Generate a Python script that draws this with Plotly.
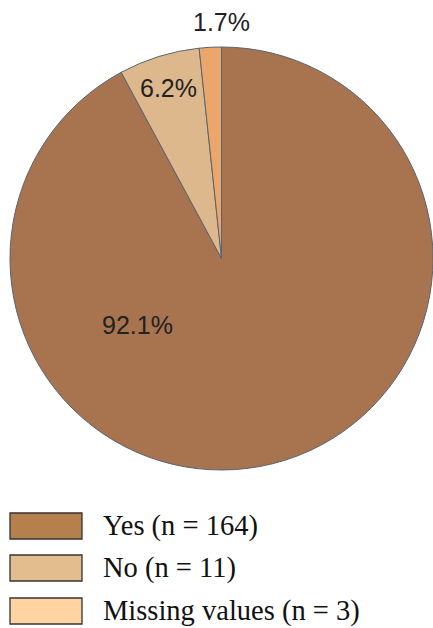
import plotly.graph_objects as go

labels = ["Yes", "No", "Missing values"]
counts = [164, 11, 3]
pie_colors = ["#A8744F", "#DEB88D", "#EAA66B"]
legend_colors = ["#B5804B", "#E3BD8E", "#FFD4A0"]

W, H = 433, 628
ML, MR, MT, MB = 10, 0, 46, 157
PW, PH = W - ML - MR, H - MT - MB

def px(x):
    return (x - ML) / PW

def py(y):
    return (H - MB - y) / PH

total = sum(counts)
pcts = [c / total * 100 for c in counts]

fig = go.Figure(go.Pie(
    labels=labels,
    values=counts,
    sort=False,
    direction="clockwise",
    rotation=0,
    marker=dict(colors=pie_colors, line=dict(color="#5a6370", width=1)),
    textinfo="none",
    hoverinfo="label+percent",
    showlegend=False,
    domain=dict(x=[0, 1], y=[0, 1]),
))

label_pos = [(137, 325), (168, 88), (222, 22)]
annotations = []
for p, (x, y) in zip(pcts, label_pos):
    annotations.append(dict(
        x=px(x), y=py(y), xref="paper", yref="paper",
        text=f"{p:.1f}%", showarrow=False,
        font=dict(family="Liberation Sans, Arial", size=25, color="#222222"),
        xanchor="center", yanchor="middle",
    ))

shapes = []
row_y = [526, 568, 611]
for lab, cnt, col, y in zip(labels, counts, legend_colors, row_y):
    shapes.append(dict(
        type="rect", xref="paper", yref="paper",
        x0=px(10), x1=px(82), y0=py(y - 13), y1=py(y + 13),
        fillcolor=col, line=dict(color="#333333", width=1.3),
    ))
    annotations.append(dict(
        x=px(101), y=py(y), xref="paper", yref="paper",
        text=f"{lab} (n = {cnt})", showarrow=False,
        font=dict(family="Liberation Serif, Times New Roman, serif", size=28.5, color="#111111"),
        xanchor="left", yanchor="middle",
    ))

fig.update_layout(
    width=W, height=H,
    margin=dict(l=ML, r=MR, t=MT, b=MB),
    paper_bgcolor="white",
    plot_bgcolor="white",
    annotations=annotations,
    shapes=shapes,
)

fig.write_html("out.html", config={"displayModeBar": False},
               post_script="document.body.style.margin='0';")
